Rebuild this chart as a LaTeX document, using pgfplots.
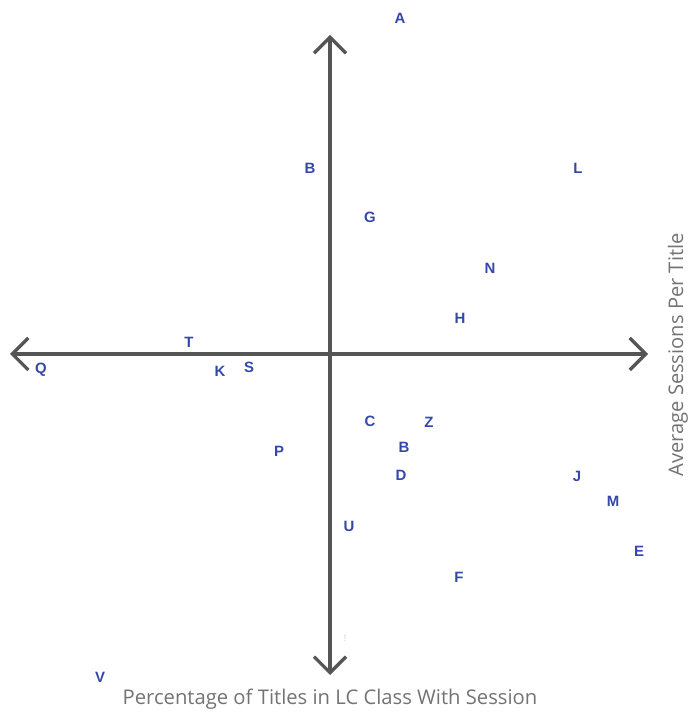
\documentclass[border=0pt]{standalone}
\usepackage{fontspec}
\setmainfont{Open Sans}
\newfontfamily\letterfont{Liberation Sans}
\usepackage{pgfplots}
\pgfplotsset{compat=1.18}
\usepackage{pgfplotstable}
\usetikzlibrary{arrows.meta}
\definecolor{lettblue}{RGB}{52,72,170}
\definecolor{arrowgray}{RGB}{85,85,85}
\definecolor{labgray}{RGB}{115,115,115}
\pgfplotstableread{
x y label
70 336 A
-20 186 B
248 186 L
40 137 G
160 86 N
130 36 H
-141 12 T
-289 -16 Q
-110 -17 K
-81 -13 S
40 -67 C
99 -68 Z
74 -93 B
-51 -97 P
71 -121 D
247 -122 J
283 -147 M
19 -172 U
309 -197 E
129 -223 F
-230 -323 V
}\points
\begin{document}
\begin{tikzpicture}
\begin{axis}[
  x=1bp, y=1bp,
  xmin=-330, xmax=361, ymin=-362, ymax=354,
  hide axis, clip=false,
]
\path (rel axis cs:0,0) rectangle (rel axis cs:1,1);
\draw[arrowgray, line width=3.2bp, -{Straight Barb[length=16bp, width=32bp, line width=3.2bp]}] (axis cs:0,0) -- (axis cs:318,0);
\draw[arrowgray, line width=3.2bp, -{Straight Barb[length=16bp, width=32bp, line width=3.2bp]}] (axis cs:0,0) -- (axis cs:-320,0);
\draw[arrowgray, line width=3.2bp, -{Straight Barb[length=16bp, width=32bp, line width=3.2bp]}] (axis cs:0,0) -- (axis cs:0,319);
\draw[arrowgray, line width=3.2bp, -{Straight Barb[length=16bp, width=32bp, line width=3.2bp]}] (axis cs:0,0) -- (axis cs:0,-321);
\addplot[only marks, mark=none,
  point meta=explicit symbolic,
  nodes near coords,
  nodes near coords style={anchor=center, font=\letterfont\bfseries\fontsize{15}{15}\selectfont, text=lettblue, inner sep=0pt}]
  table[x=x, y=y, meta=label] {\points};
\node[text=black!20, font=\fontsize{9}{9}\selectfont] at (axis cs:15,-284) {!};
\node[text=labgray, font=\fontsize{20.3}{20.3}\selectfont] at (axis cs:0,-345) {Percentage of Titles in LC Class With Session};
\node[text=labgray, rotate=90, font=\fontsize{20.2}{20.2}\selectfont] at (axis cs:348,-1) {Average Sessions Per Title};
\end{axis}
\end{tikzpicture}
\end{document}
